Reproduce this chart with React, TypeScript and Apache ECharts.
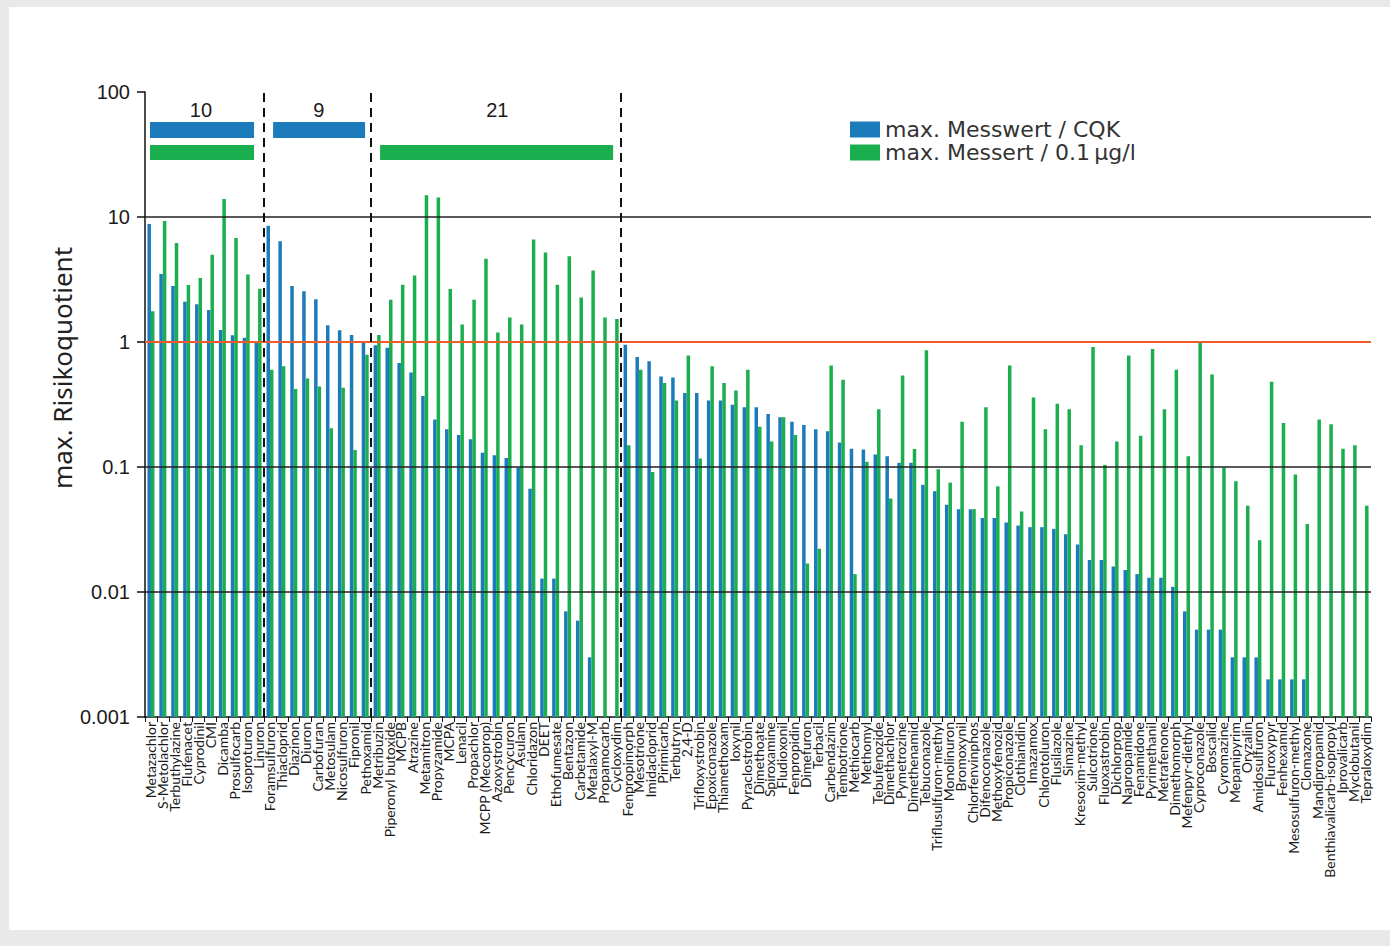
import React, { useEffect, useRef } from 'react';
import * as echarts from 'echarts';

const categories = [
  'Metazachlor', 'S-Metolachlor', 'Terbuthylazine', 'Flufenacet', 'Cyprodinil', 'CMI', 'Dicamba', 'Prosulfocarb', 'Isoproturon', 'Linuron',
  'Foramsulfuron', 'Thiacloprid', 'Diazinon', 'Diuron', 'Carbofuran', 'Metosulam', 'Nicosulfuron', 'Fipronil', 'Pethoxamid',
  'Metribuzin', 'Piperonyl butoxide', 'MCPB', 'Atrazine', 'Metamitron', 'Propyzamide', 'MCPA', 'Lenacil', 'Propachlor', 'MCPP (Mecoprop)',
  'Azoxystrobin', 'Pencycuron', 'Asulam', 'Chloridazon', 'DEET', 'Ethofumesate', 'Bentazon', 'Carbetamide', 'Metalaxyl-M', 'Propamocarb', 'Cycloxydim',
  'Fenpropimorph', 'Mesotrione', 'Imidacloprid', 'Pirimicarb', 'Terbutryn', '2,4-D', 'Trifloxystrobin', 'Epoxiconazole', 'Thiamethoxam', 'Ioxynil',
  'Pyraclostrobin', 'Dimethoate', 'Spiroxamine', 'Fludioxonil', 'Fenpropidin', 'Dimefuron', 'Terbacil', 'Carbendazim', 'Tembotrione', 'Methiocarb',
  'Methomyl', 'Tebufenozide', 'Dimethachlor', 'Pymetrozine', 'Dimethenamid', 'Tebuconazole', 'Triflusulfuron-methyl', 'Monolinuron', 'Bromoxynil', 'Chlorfenvinphos',
  'Difenoconazole', 'Methoxyfenozid', 'Propiconazole', 'Clothianidin', 'Imazamox', 'Chlorotoluron', 'Flusilazole', 'Simazine', 'Kresoxim-methyl', 'Sulcotrione',
  'Fluoxastrobin', 'Dichlorprop', 'Napropamide', 'Fenamidone', 'Pyrimethanil', 'Metrafenone', 'Dimethomorph', 'Mefenpyr-diethyl', 'Cyproconazole', 'Boscalid',
  'Cyromazine', 'Mepanipyrim', 'Oryzalin', 'Amidosulfuron', 'Fluroxypyr', 'Fenhexamid', 'Mesosulfuron-methyl', 'Clomazone', 'Mandipropamid', 'Benthiavalicarb-isopropyl',
  'Iprovalicarb', 'Myclobutanil', 'Tepraloxydim',
];

// max. Messwert / CQK
const cqkValues: (number | null)[] = [
  8.8, 3.5, 2.8, 2.1, 2.0, 1.8, 1.25, 1.13, 1.08, 1.02,
  8.5, 6.4, 2.8, 2.55, 2.2, 1.36, 1.24, 1.14, 1.01,
  0.94, 0.9, 0.68, 0.57, 0.37, 0.24, 0.2, 0.18, 0.167, 0.13,
  0.124, 0.118, 0.099, 0.067, 0.0128, 0.0128, 0.007, 0.0059, 0.003, null, null,
  0.95, 0.76, 0.7, 0.53, 0.52, 0.39, 0.39, 0.34, 0.34, 0.315,
  0.3, 0.3, 0.265, 0.25, 0.23, 0.217, 0.2, 0.193, 0.157, 0.14,
  0.138, 0.126, 0.122, 0.108, 0.108, 0.072, 0.064, 0.05, 0.046, 0.046,
  0.039, 0.039, 0.036, 0.034, 0.033, 0.033, 0.032, 0.029, 0.024, 0.018,
  0.018, 0.016, 0.015, 0.0139, 0.013, 0.013, 0.011, 0.007, 0.005, 0.005,
  0.005, 0.003, 0.003, 0.003, 0.002, 0.002, 0.002, 0.002, null, null,
  null, null, null,
];

// max. Messert / 0.1 µg/l
const pointOneValues: (number | null)[] = [
  1.76, 9.3, 6.2, 2.86, 3.25, 5.0, 13.9, 6.8, 3.46, 2.67,
  0.6, 0.64, 0.42, 0.51, 0.44, 0.204, 0.43, 0.137, 0.79,
  1.14, 2.18, 2.87, 3.4, 14.9, 14.3, 2.66, 1.38, 2.18, 4.64,
  1.19, 1.57, 1.38, 6.6, 5.2, 2.87, 4.85, 2.27, 3.74, 1.57, 1.53,
  0.149, 0.6, 0.091, 0.47, 0.34, 0.78, 0.117, 0.64, 0.47, 0.41,
  0.6, 0.21, 0.16, 0.25, 0.18, 0.0169, 0.0222, 0.65, 0.5, 0.0139,
  0.11, 0.29, 0.056, 0.54, 0.139, 0.86, 0.096, 0.075, 0.23, 0.046,
  0.3, 0.07, 0.65, 0.044, 0.36, 0.2, 0.32, 0.29, 0.149, 0.91,
  0.104, 0.16, 0.78, 0.178, 0.88, 0.29, 0.6, 0.122, 0.98, 0.55,
  0.099, 0.077, 0.049, 0.026, 0.48, 0.225, 0.087, 0.035, 0.24, 0.22,
  0.14, 0.149, 0.049,
];

const seriesNames = ['max. Messwert / CQK', 'max. Messert / 0.1\u2009µg/l'];
const groupBoundaries = [10, 19, 40];
const groupLabels = ['10', '9', '21'];
const groupLabelPos = [4.7, 14.6, 29.6];
// annotation strips [from, to] in category units
const blueStrips = [[0.42, 9.16], [10.76, 18.49]];
const greenStrips = [[0.42, 9.16], [19.75, 39.33]];

const BLUE = '#1c7cbb';
const GREEN = '#1bae4f';

export default function App() {
  const ref = useRef<HTMLDivElement>(null);

  useEffect(() => {
    if (!ref.current) return;
    const chart = echarts.init(ref.current, null, { renderer: 'svg' });
    const fmt = (v: number) => {
      const e = Math.round(Math.log10(v));
      return e >= 0 ? String(Math.pow(10, e)) : Math.pow(10, e).toFixed(-e);
    };
    const legendBase = {
      orient: 'vertical',
      left: 850,
      padding: 0,
      icon: 'rect',
      itemWidth: 30,
      itemHeight: 16,
      textStyle: { fontSize: 22, fontFamily: 'DejaVu Sans', color: '#333' },
    };
    const option: any = {
      animation: false,
      backgroundColor: 'transparent',
      graphic: [
        { type: 'rect', z: -100, shape: { x: 9, y: 7, width: 1381, height: 923 }, style: { fill: '#ffffff' } },
        {
          type: 'text', x: 62, y: 368, rotation: Math.PI / 2,
          style: { text: 'max. Risikoquotient', fontSize: 26, fontFamily: 'Noto Sans', fill: '#222', textAlign: 'center', textVerticalAlign: 'middle' },
        },
      ],
      grid: { left: 145, right: 19, top: 92, bottom: 229 },
      legend: [
        { ...legendBase, data: [seriesNames[0]], top: 118.5 },
        { ...legendBase, data: [seriesNames[1]], top: 141.5 },
      ],
      xAxis: [
        {
          type: 'category',
          data: categories,
          axisLine: { onZero: false, lineStyle: { color: '#111', width: 1.5 } },
          axisTick: { show: true, interval: 0, length: 5, lineStyle: { color: '#111' } },
          axisLabel: { interval: 0, rotate: 90, fontSize: 14, fontFamily: 'Lato', color: '#1a1a1a', margin: 5 },
          splitLine: { show: false },
        },
        { type: 'value', min: 0, max: categories.length, show: false },
      ],
      yAxis: {
        type: 'log',
        logBase: 10,
        min: 0.001,
        max: 100,
        startValue: 0.001,
        axisLine: { show: true, lineStyle: { color: '#111', width: 1.5 } },
        axisTick: { show: true, length: 8, lineStyle: { color: '#111', width: 1.5 } },
        splitLine: { show: false },
        axisLabel: { formatter: fmt, fontSize: 20, fontFamily: 'Liberation Sans', color: '#1a1a1a', margin: 15 },
      },
      series: [
        {
          name: seriesNames[0],
          type: 'bar',
          data: cqkValues,
          barWidth: 3.5,
          barGap: '0%',
          itemStyle: { color: BLUE },
          z: 2,
        },
        {
          name: seriesNames[1],
          type: 'bar',
          data: pointOneValues,
          barWidth: 3.5,
          barGap: '0%',
          itemStyle: { color: GREEN },
          z: 2,
          markLine: {
            silent: true,
            symbol: 'none',
            label: { show: false },
            z: 5,
            data: [
              { yAxis: 10, lineStyle: { color: '#222', width: 1.5, type: 'solid' } },
              { yAxis: 0.1, lineStyle: { color: '#222', width: 1.5, type: 'solid' } },
              { yAxis: 0.01, lineStyle: { color: '#222', width: 1.5, type: 'solid' } },
              { yAxis: 1, lineStyle: { color: '#f15a29', width: 2, type: 'solid' } },
            ],
          },
        },
        {
          type: 'line',
          xAxisIndex: 1,
          yAxisIndex: 0,
          data: [],
          silent: true,
          markLine: {
            silent: true,
            symbol: 'none',
            label: { show: false },
            z: 6,
            lineStyle: { color: '#111', width: 2, type: [9, 6] },
            data: groupBoundaries.map((b) => ({ xAxis: b })),
          },
          markArea: {
            silent: true,
            data: [
              ...blueStrips.map(([a, b]) => [
                { xAxis: a, yAxis: 57.5, itemStyle: { color: BLUE } },
                { xAxis: b, yAxis: 42.9 },
              ]),
              ...greenStrips.map(([a, b]) => [
                { xAxis: a, yAxis: 37.7, itemStyle: { color: GREEN } },
                { xAxis: b, yAxis: 28.6 },
              ]),
            ],
          },
          markPoint: {
            silent: true,
            symbol: 'rect',
            symbolSize: 1,
            itemStyle: { color: 'rgba(0,0,0,0)' },
            label: { show: true, position: 'inside', formatter: '{b}', fontSize: 20, fontFamily: 'Liberation Sans', color: '#1a1a1a' },
            data: groupLabels.map((t, i) => ({ name: t, coord: [groupLabelPos[i], 71.8] })),
          },
        },
      ],
    };
    chart.setOption(option);
    return () => chart.dispose();
  }, []);

  return (
    <div style={{ position: 'fixed', left: 0, top: 0, width: 1390, height: 946, background: '#e9e9e9' }}>
      <div ref={ref} style={{ width: 1390, height: 946 }} />
    </div>
  );
}
